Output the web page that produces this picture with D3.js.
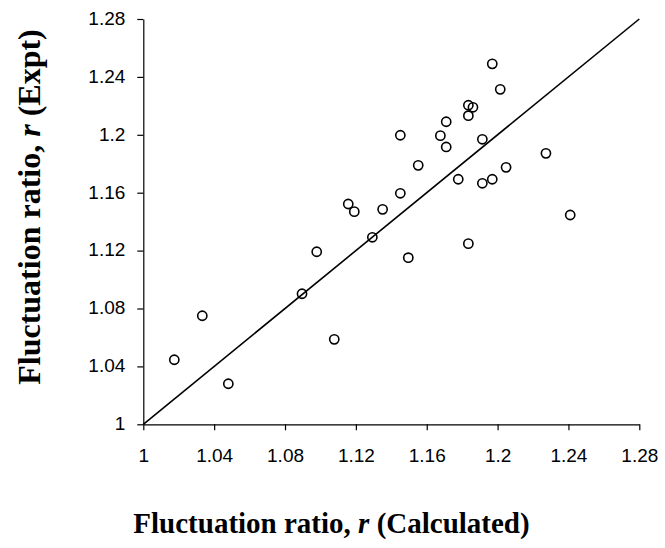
<!DOCTYPE html>
<html>
<head>
<meta charset="utf-8">
<script src="https://cdn.jsdelivr.net/npm/d3@7"></script>
<style>
  body { margin: 0; background: #fff; }
  .tick text { font-family: "Liberation Sans", Arial, sans-serif; font-size: 19px; fill: #000; }
  .axis-title { font-family: "Liberation Serif", "Times New Roman", serif; font-weight: bold; fill: #000; }
</style>
</head>
<body>
<div id="chart-container"></div>
<script>
// Calculated vs experimental fluctuation ratio
const calculated = [1.0175, 1.0333, 1.048, 1.0896, 1.0979, 1.1078, 1.1157, 1.1191, 1.1293, 1.1351,
    1.1451, 1.1451, 1.1496, 1.1552, 1.1677, 1.171, 1.171, 1.1778, 1.1835, 1.1861,
    1.1835, 1.1835, 1.1914, 1.1914, 1.197, 1.197, 1.2015, 1.2048, 1.2273, 1.241]
const experimental = [1.0446, 1.075, 1.028, 1.0902, 1.1192, 1.0587, 1.1522, 1.1469, 1.1292, 1.1485,
    1.1997, 1.1596, 1.1151, 1.1789, 1.1994, 1.209, 1.1916, 1.1693, 1.2204, 1.219,
    1.2132, 1.1248, 1.1969, 1.1665, 1.249, 1.1693, 1.2314, 1.1775, 1.1872, 1.1446]
const tickValues = [1, 1.04, 1.08, 1.12, 1.16, 1.2, 1.24, 1.28]
const identityLine = [1, 1.28]

width = 665
height = 548

const dataset = calculated.map((c, i) => ({ x: c, y: experimental[i] }))

const xScale = d3.scaleLinear()
    .domain([1, 1.28])
    .range([143.3, 639.3])

const yScale = d3.scaleLinear()
    .domain([1, 1.28])
    .range([424.3, 19])

const svg = d3.select('#chart-container')
    .append('svg')
    .attr('width', width)
    .attr('height', height)

svg.append('rect')
    .attr('width', width)
    .attr('height', height)
    .attr('fill', '#fff')

const fmt = d => d3.format('~g')(d)

// Axes
const xAxis = d3.axisBottom(xScale)
    .tickValues(tickValues)
    .tickFormat(fmt)
    .tickSize(6)
    .tickSizeOuter(0)
    .tickPadding(18)
svg.append('g')
    .attr('id', 'x-axis')
    .attr('transform', 'translate(0,' + yScale(1) + ')')
    .call(xAxis)

const yAxis = d3.axisLeft(yScale)
    .tickValues(tickValues)
    .tickFormat(fmt)
    .tickSize(6)
    .tickSizeOuter(0)
    .tickPadding(12)
svg.append('g')
    .attr('id', 'y-axis')
    .attr('transform', 'translate(' + xScale(1) + ',0)')
    .call(yAxis)

svg.selectAll('.domain, .tick line')
    .attr('stroke', '#000')
    .attr('stroke-width', 1.2)
svg.selectAll('#y-axis .tick text').attr('dy', '0.28em')

// 1:1 line
svg.append('line')
    .attr('x1', xScale(identityLine[0]))
    .attr('y1', yScale(identityLine[0]))
    .attr('x2', xScale(identityLine[1]))
    .attr('y2', yScale(identityLine[1]))
    .attr('stroke', '#000')
    .attr('stroke-width', 1.6)

// Points
svg.selectAll('circle.dot')
    .data(dataset)
    .enter()
    .append('circle')
    .attr('class', 'dot')
    .attr('cx', d => xScale(d.x))
    .attr('cy', d => yScale(d.y))
    .attr('r', 4.6)
    .attr('fill', 'none')
    .attr('stroke', '#000')
    .attr('stroke-width', 1.6)

// Axis titles
const xTitle = svg.append('text')
    .attr('class', 'axis-title')
    .attr('font-size', 29)
    .attr('x', 331.5)
    .attr('y', 533)
    .attr('text-anchor', 'middle')
xTitle.append('tspan').text('Fluctuation ratio, ')
xTitle.append('tspan').attr('font-style', 'italic').text('r')
xTitle.append('tspan').text(' (Calculated)')

const yTitle = svg.append('text')
    .attr('class', 'axis-title')
    .attr('font-size', 32)
    .attr('transform', 'translate(40,207) rotate(-90)')
    .attr('text-anchor', 'middle')
yTitle.append('tspan').text('Fluctuation ratio, ')
yTitle.append('tspan').attr('font-style', 'italic').text('r')
yTitle.append('tspan').text(' (Expt)')
</script>
</body>
</html>
